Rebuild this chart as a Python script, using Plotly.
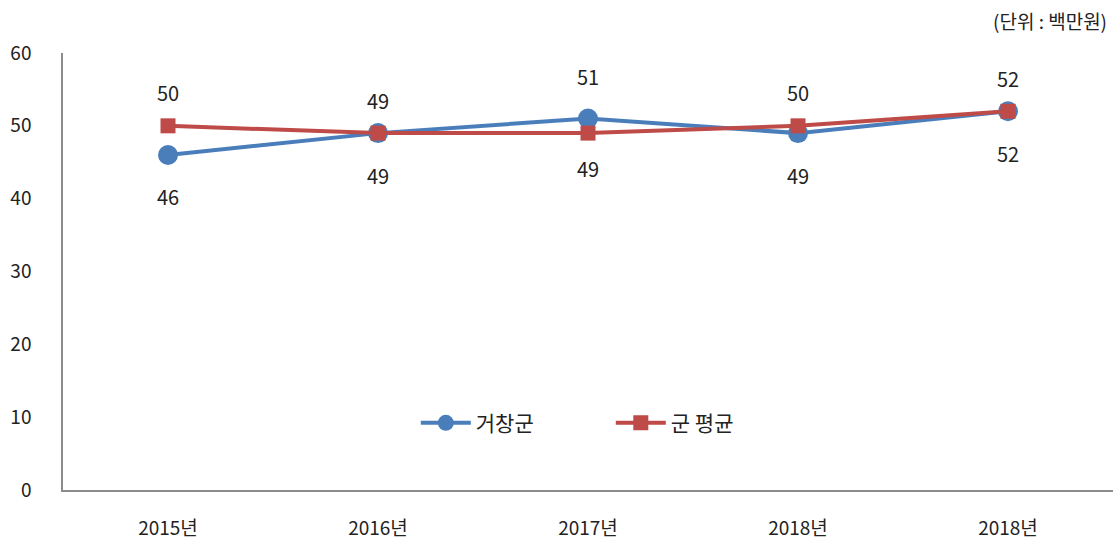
import plotly.graph_objects as go

categories = ["2015년", "2016년", "2017년", "2018년", "2018년"]
geochang = [46, 49, 51, 49, 52]
gun_avg = [50, 49, 49, 50, 52]
geochang_label_pos = ["below", "below", "above", "below", "below"]
gun_label_pos = ["above", "above", "below", "above", "above"]

BLUE = "#4A7EBB"
RED = "#BE4B48"
FONT = "Noto Sans CJK KR"

xs = list(range(len(categories)))

fig = go.Figure()
fig.add_trace(go.Scatter(
    x=xs, y=geochang, name="거창군", mode="lines+markers",
    line=dict(color=BLUE, width=4),
    marker=dict(symbol="circle", size=20, color=BLUE),
))
fig.add_trace(go.Scatter(
    x=xs, y=gun_avg, name="군 평균", mode="lines+markers",
    line=dict(color=RED, width=4),
    marker=dict(symbol="square", size=15, color=RED),
))

for x, v, p in zip(xs, geochang, geochang_label_pos):
    fig.add_annotation(x=x, y=v, text=str(v), showarrow=False,
                       yshift=(42 if p == "above" else -42),
                       font=dict(family=FONT, size=20, color="#222222"))
for x, v, p in zip(xs, gun_avg, gun_label_pos):
    fig.add_annotation(x=x, y=v, text=str(v), showarrow=False,
                       yshift=(33 if p == "above" else -35),
                       font=dict(family=FONT, size=20, color="#222222"))

fig.add_annotation(xref="paper", yref="paper", x=1.0, y=1.0, yshift=33, xshift=-4,
                   xanchor="right", yanchor="middle", showarrow=False,
                   text="(단위 : 백만원)",
                   font=dict(family=FONT, size=19, color="#222222"))

fig.update_layout(
    width=1117, height=540,
    margin=dict(l=63, r=4, t=53, b=50, autoexpand=False),
    paper_bgcolor="white", plot_bgcolor="white",
    font=dict(family=FONT, size=16, color="#222222"),
    showlegend=True,
    legend=dict(orientation="h", x=0.336, xanchor="left", y=0.153, yanchor="middle",
                font=dict(family=FONT, size=21, color="#222222"),
                bgcolor="rgba(0,0,0,0)", itemwidth=50,
                entrywidth=130, entrywidthmode="pixels"),
    xaxis=dict(tickmode="array", tickvals=xs, ticktext=categories,
               range=[-0.5, 4.5], showgrid=False, zeroline=False,
               showline=True, linecolor="#8C8C8C", linewidth=1.5,
               ticks="", ticklabelstandoff=20, automargin=False,
               tickfont=dict(family=FONT, size=19, color="#222222")),
    yaxis=dict(range=[0, 60], tickmode="array", tickvals=[0, 10, 20, 30, 40, 50, 60],
               showgrid=False, zeroline=False,
               showline=True, linecolor="#8C8C8C", linewidth=1.5,
               ticks="", ticklabelstandoff=26, automargin=False,
               tickfont=dict(family=FONT, size=19, color="#222222")),
)

fig.write_html("out.html", config={"displayModeBar": False},
               post_script="document.body.style.margin='0';")
